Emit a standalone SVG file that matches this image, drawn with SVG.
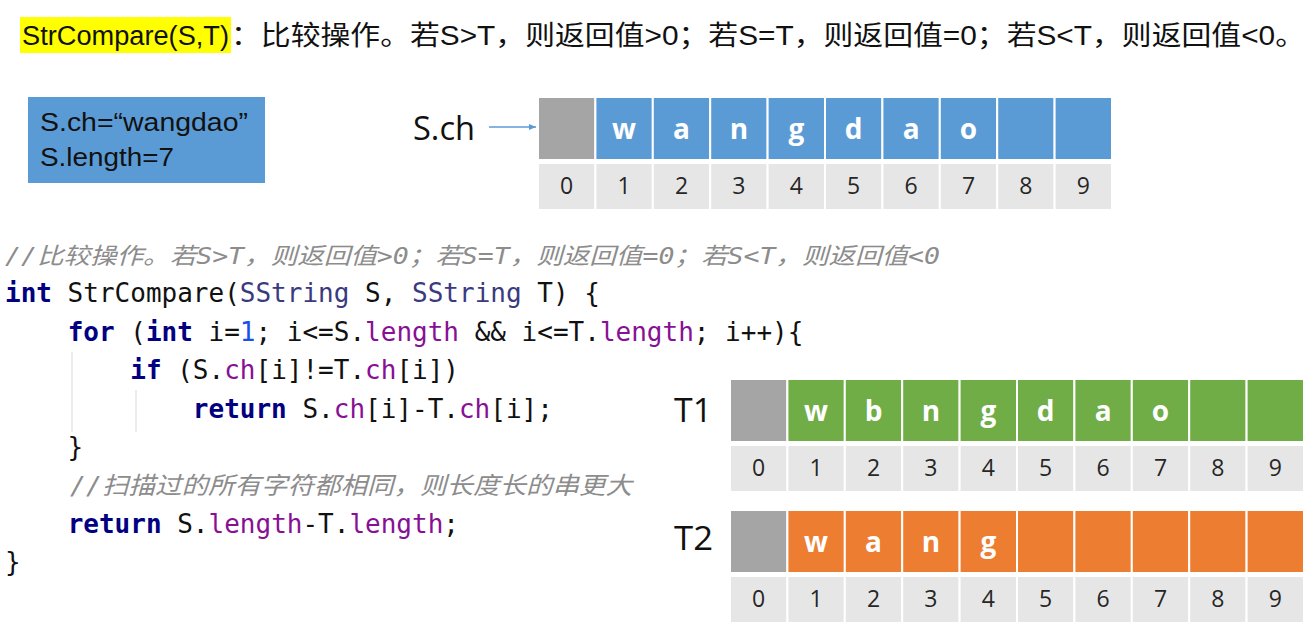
<svg xmlns="http://www.w3.org/2000/svg" width="1315" height="630" viewBox="0 0 1315 630">
<style>
.t{font-family:"Liberation Sans","Noto Sans CJK SC",sans-serif;fill:#111}
.code{font-family:"DejaVu Sans Mono","Noto Sans CJK SC",monospace;font-size:26px;fill:#111}
.kw{fill:#000080;font-weight:bold}
.pu{fill:#871094}
.ty{fill:#3a3a80}
.num{fill:#1750eb}
.cm{font-family:"DejaVu Sans Mono","Noto Sans CJK SC",monospace;fill:#8c8c8c;font-style:italic}
.cell{stroke:#fff;stroke-width:2}
.g{fill:#a5a5a5}.b{fill:#5b9bd5}.gr{fill:#70ad47}.o{fill:#ed7d31}.ix{fill:#e7e6e6}
.ch{font-family:"Open Sans","Liberation Sans",sans-serif;font-weight:bold;font-size:28px;fill:#fff;text-anchor:middle}
.d{font-family:"Open Sans","Liberation Sans",sans-serif;font-size:23px;fill:#262626;text-anchor:middle}
.lbl{font-family:"Open Sans","Liberation Sans",sans-serif;font-size:33px;fill:#111}
.guide{stroke:#e6e6e6;stroke-width:1.5}
</style>
<defs>
<marker id="ah" markerWidth="8" markerHeight="8" refX="7" refY="4" orient="auto" markerUnits="userSpaceOnUse">
<path d="M0,1 L7,4 L0,7 z" fill="#5b9bd5"/>
</marker>
</defs>
<rect width="1315" height="630" fill="#fff"/>

<g id="title">
<rect x="20" y="17" width="211" height="36" fill="#ffff00"/>
<text class="t" x="22" y="45" font-size="27" textLength="207" lengthAdjust="spacingAndGlyphs">StrCompare(S,T)</text>
<text class="t" x="231" y="45" font-size="27" textLength="1074" lengthAdjust="spacingAndGlyphs">：比较操作。若S&gt;T，则返回值&gt;0；若S=T，则返回值=0；若S&lt;T，则返回值&lt;0。</text>
</g>

<g id="info-box">
<rect x="28" y="97" width="237" height="86" fill="#5b9bd5"/>
<text class="t" x="40" y="131" font-size="25" textLength="208" lengthAdjust="spacingAndGlyphs">S.ch=“wangdao”</text>
<text class="t" x="40" y="166" font-size="25" textLength="134" lengthAdjust="spacingAndGlyphs">S.length=7</text>
</g>

<g id="connectors">
<line x1="489" y1="127" x2="536" y2="127" stroke="#5b9bd5" stroke-width="1.5" marker-end="url(#ah)"/>
</g>

<g id="S-label"><text class="lbl" x="413" y="140" textLength="62" lengthAdjust="spacingAndGlyphs">S.ch</text></g>

<g id="S-array">
<rect class="cell g" x="538" y="97" width="57.4" height="63"/>
<rect class="cell b" x="595.4" y="97" width="57.4" height="63"/>
<rect class="cell b" x="652.8" y="97" width="57.4" height="63"/>
<rect class="cell b" x="710.2" y="97" width="57.4" height="63"/>
<rect class="cell b" x="767.6" y="97" width="57.4" height="63"/>
<rect class="cell b" x="825" y="97" width="57.4" height="63"/>
<rect class="cell b" x="882.4" y="97" width="57.4" height="63"/>
<rect class="cell b" x="939.8" y="97" width="57.4" height="63"/>
<rect class="cell b" x="997.2" y="97" width="57.4" height="63"/>
<rect class="cell b" x="1054.6" y="97" width="57.4" height="63"/>
<text class="ch" x="624.1" y="139">w</text><text class="ch" x="681.5" y="139">a</text><text class="ch" x="738.9" y="139">n</text><text class="ch" x="796.3" y="139">g</text><text class="ch" x="853.7" y="139">d</text><text class="ch" x="911.1" y="139">a</text><text class="ch" x="968.5" y="139">o</text>
<g>
<rect class="cell ix" x="538" y="163" width="57.4" height="47"/><rect class="cell ix" x="595.4" y="163" width="57.4" height="47"/><rect class="cell ix" x="652.8" y="163" width="57.4" height="47"/><rect class="cell ix" x="710.2" y="163" width="57.4" height="47"/><rect class="cell ix" x="767.6" y="163" width="57.4" height="47"/><rect class="cell ix" x="825" y="163" width="57.4" height="47"/><rect class="cell ix" x="882.4" y="163" width="57.4" height="47"/><rect class="cell ix" x="939.8" y="163" width="57.4" height="47"/><rect class="cell ix" x="997.2" y="163" width="57.4" height="47"/><rect class="cell ix" x="1054.6" y="163" width="57.4" height="47"/>
<text class="d" x="566.7" y="194">0</text><text class="d" x="624.1" y="194">1</text><text class="d" x="681.5" y="194">2</text><text class="d" x="738.9" y="194">3</text><text class="d" x="796.3" y="194">4</text><text class="d" x="853.7" y="194">5</text><text class="d" x="911.1" y="194">6</text><text class="d" x="968.5" y="194">7</text><text class="d" x="1025.9" y="194">8</text><text class="d" x="1083.3" y="194">9</text>
</g>
</g>

<g id="code">
<text class="cm" x="5" y="264" font-size="23" textLength="935" lengthAdjust="spacingAndGlyphs">//比较操作。若S&gt;T，则返回值&gt;0；若S=T，则返回值=0；若S&lt;T，则返回值&lt;0</text>
<text class="code" x="5" y="302" xml:space="preserve"><tspan class="kw">int</tspan> StrCompare(<tspan class="ty">SString</tspan> S, <tspan class="ty">SString</tspan> T) {</text>
<text class="code" x="5" y="341" xml:space="preserve">    <tspan class="kw">for</tspan> (<tspan class="kw">int</tspan> i=<tspan class="num">1</tspan>; i&lt;=S.<tspan class="pu">length</tspan> &amp;&amp; i&lt;=T.<tspan class="pu">length</tspan>; i++){</text>
<text class="code" x="5" y="379" xml:space="preserve">        <tspan class="kw">if</tspan> (S.<tspan class="pu">ch</tspan>[i]!=T.<tspan class="pu">ch</tspan>[i])</text>
<text class="code" x="5" y="418" xml:space="preserve">            <tspan class="kw">return</tspan> S.<tspan class="pu">ch</tspan>[i]-T.<tspan class="pu">ch</tspan>[i];</text>
<text class="code" x="5" y="456" xml:space="preserve">    }</text>
<text class="cm" x="70" y="494" font-size="24" textLength="562" lengthAdjust="spacingAndGlyphs">//扫描过的所有字符都相同，则长度长的串更大</text>
<text class="code" x="5" y="533" xml:space="preserve">    <tspan class="kw">return</tspan> S.<tspan class="pu">length</tspan>-T.<tspan class="pu">length</tspan>;</text>
<text class="code" x="5" y="571">}</text>
<line class="guide" x1="72" y1="352" x2="72" y2="432"/>
<line class="guide" x1="136" y1="390" x2="136" y2="432"/>
</g>

<g id="T1-label"><text class="lbl" x="674" y="422" textLength="38" lengthAdjust="spacingAndGlyphs">T1</text></g>
<g id="T1-array">
<rect class="cell g" x="730" y="379" width="57.4" height="63"/>
<rect class="cell gr" x="787.4" y="379" width="57.4" height="63"/><rect class="cell gr" x="844.8" y="379" width="57.4" height="63"/><rect class="cell gr" x="902.2" y="379" width="57.4" height="63"/><rect class="cell gr" x="959.6" y="379" width="57.4" height="63"/><rect class="cell gr" x="1017" y="379" width="57.4" height="63"/><rect class="cell gr" x="1074.4" y="379" width="57.4" height="63"/><rect class="cell gr" x="1131.8" y="379" width="57.4" height="63"/><rect class="cell gr" x="1189.2" y="379" width="57.4" height="63"/><rect class="cell gr" x="1246.6" y="379" width="57.4" height="63"/>
<text class="ch" x="816.1" y="421">w</text><text class="ch" x="873.5" y="421">b</text><text class="ch" x="930.9" y="421">n</text><text class="ch" x="988.3" y="421">g</text><text class="ch" x="1045.7" y="421">d</text><text class="ch" x="1103.1" y="421">a</text><text class="ch" x="1160.5" y="421">o</text>
<rect class="cell ix" x="730" y="445" width="57.4" height="47"/><rect class="cell ix" x="787.4" y="445" width="57.4" height="47"/><rect class="cell ix" x="844.8" y="445" width="57.4" height="47"/><rect class="cell ix" x="902.2" y="445" width="57.4" height="47"/><rect class="cell ix" x="959.6" y="445" width="57.4" height="47"/><rect class="cell ix" x="1017" y="445" width="57.4" height="47"/><rect class="cell ix" x="1074.4" y="445" width="57.4" height="47"/><rect class="cell ix" x="1131.8" y="445" width="57.4" height="47"/><rect class="cell ix" x="1189.2" y="445" width="57.4" height="47"/><rect class="cell ix" x="1246.6" y="445" width="57.4" height="47"/>
<text class="d" x="758.7" y="476">0</text><text class="d" x="816.1" y="476">1</text><text class="d" x="873.5" y="476">2</text><text class="d" x="930.9" y="476">3</text><text class="d" x="988.3" y="476">4</text><text class="d" x="1045.7" y="476">5</text><text class="d" x="1103.1" y="476">6</text><text class="d" x="1160.5" y="476">7</text><text class="d" x="1217.9" y="476">8</text><text class="d" x="1275.3" y="476">9</text>
</g>

<g id="T2-label"><text class="lbl" x="674" y="550" textLength="39" lengthAdjust="spacingAndGlyphs">T2</text></g>
<g id="T2-array">
<rect class="cell g" x="730" y="510" width="57.4" height="63"/>
<rect class="cell o" x="787.4" y="510" width="57.4" height="63"/><rect class="cell o" x="844.8" y="510" width="57.4" height="63"/><rect class="cell o" x="902.2" y="510" width="57.4" height="63"/><rect class="cell o" x="959.6" y="510" width="57.4" height="63"/><rect class="cell o" x="1017" y="510" width="57.4" height="63"/><rect class="cell o" x="1074.4" y="510" width="57.4" height="63"/><rect class="cell o" x="1131.8" y="510" width="57.4" height="63"/><rect class="cell o" x="1189.2" y="510" width="57.4" height="63"/><rect class="cell o" x="1246.6" y="510" width="57.4" height="63"/>
<text class="ch" x="816.1" y="552">w</text><text class="ch" x="873.5" y="552">a</text><text class="ch" x="930.9" y="552">n</text><text class="ch" x="988.3" y="552">g</text>
<rect class="cell ix" x="730" y="576" width="57.4" height="47"/><rect class="cell ix" x="787.4" y="576" width="57.4" height="47"/><rect class="cell ix" x="844.8" y="576" width="57.4" height="47"/><rect class="cell ix" x="902.2" y="576" width="57.4" height="47"/><rect class="cell ix" x="959.6" y="576" width="57.4" height="47"/><rect class="cell ix" x="1017" y="576" width="57.4" height="47"/><rect class="cell ix" x="1074.4" y="576" width="57.4" height="47"/><rect class="cell ix" x="1131.8" y="576" width="57.4" height="47"/><rect class="cell ix" x="1189.2" y="576" width="57.4" height="47"/><rect class="cell ix" x="1246.6" y="576" width="57.4" height="47"/>
<text class="d" x="758.7" y="607">0</text><text class="d" x="816.1" y="607">1</text><text class="d" x="873.5" y="607">2</text><text class="d" x="930.9" y="607">3</text><text class="d" x="988.3" y="607">4</text><text class="d" x="1045.7" y="607">5</text><text class="d" x="1103.1" y="607">6</text><text class="d" x="1160.5" y="607">7</text><text class="d" x="1217.9" y="607">8</text><text class="d" x="1275.3" y="607">9</text>
</g>
</svg>
